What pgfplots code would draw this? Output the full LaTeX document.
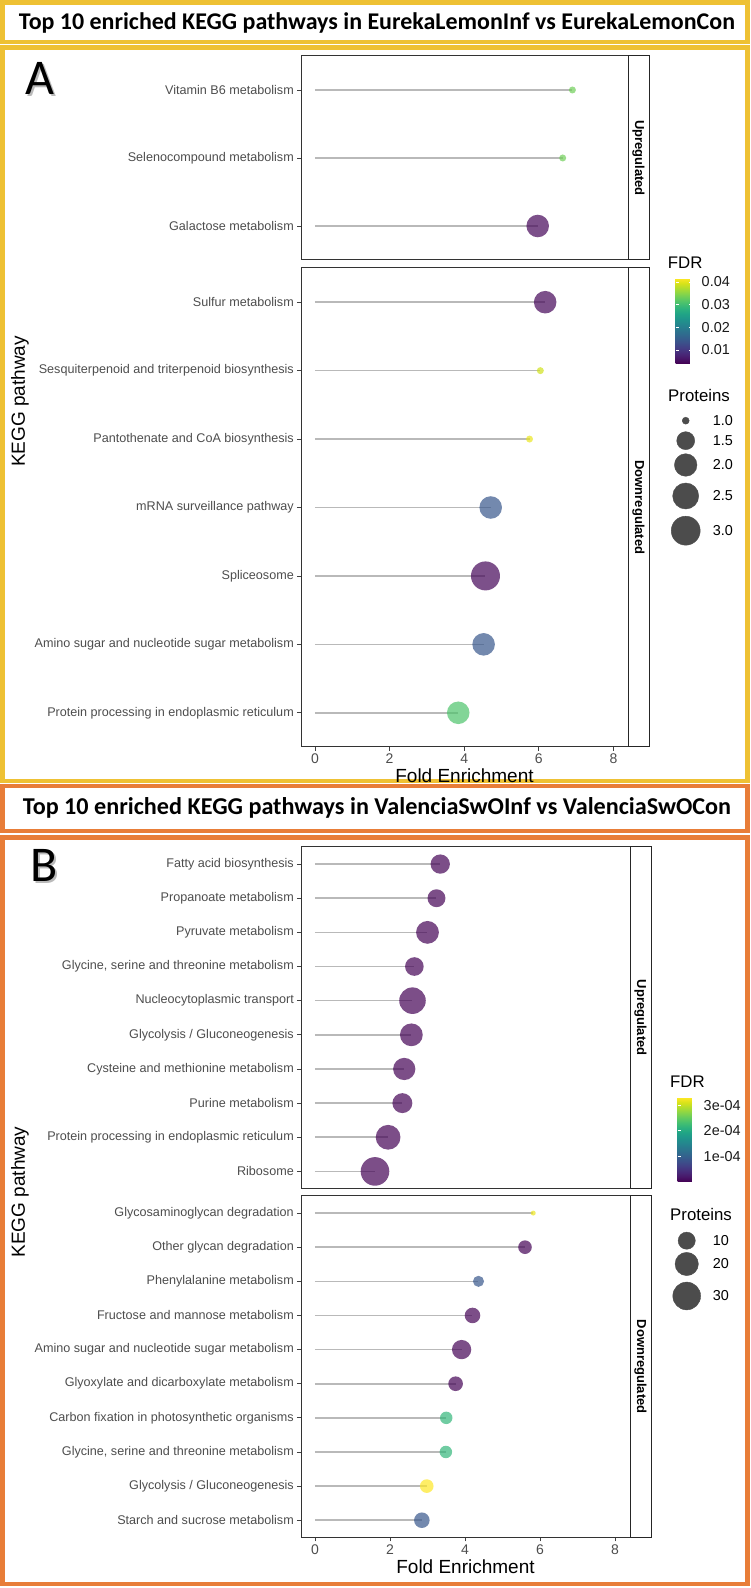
\documentclass[border=0pt]{standalone}
\usepackage{graphicx}
\usepackage{pgfplots}
\pgfplotsset{compat=1.18}
\usepackage{pgfplotstable}
\usepackage{fontspec}
\setmainfont{Liberation Sans}
\newfontfamily\calibri{Carlito}
\definecolor{panelY}{RGB}{238,193,52}
\definecolor{panelO}{RGB}{232,125,56}
\definecolor{axtext}{RGB}{77,77,77}
\definecolor{stemc}{RGB}{185,185,185}

\newcommand{\ylabfont}{\fontsize{12.6}{14}\selectfont}
\newcommand{\xtfont}{\fontsize{14}{16}\selectfont}
\newcommand{\legfont}{\fontsize{14.4}{16}\selectfont}
\newcommand{\legtfont}{\fontsize{16.8}{19}\selectfont}
\newcommand{\axtfont}{\fontsize{19}{22}\selectfont}
\newcommand{\stripfont}{\fontsize{13}{15}\selectfont\bfseries}

\pgfplotsset{
  facet/.style={
    scale only axis,
    axis line style={black!80, line width=1pt},
    tick style={black!75, line width=0.8pt},
    tick align=outside, major tick length=4pt,
    ytick pos=left, xtick pos=bottom,
    ymin=0.5,
    yticklabel style={font=\ylabfont, text=axtext, anchor=east, inner sep=0pt, xshift=-3pt},
    xticklabel style={font=\xtfont, text=axtext, inner sep=0pt, anchor=north, yshift=-3pt},
    /pgf/number format/assume math mode=true,
    colormap/viridis,
  },
  stem/.style={xcomb, draw=stemc, line width=1.6pt, forget plot},
  bubbleA/.style={scatter, only marks, mark=*, point meta=explicit,
     scatter/use mapped color={draw=mapped color, fill=mapped color},
     visualization depends on={\thisrow{n} \as \np},
     scatter/@pre marker code/.append style={/tikz/mark size={3.5+11*sqrt((\np-1)/2)}},
     mark options={draw opacity=0, fill opacity=0.7}},
  bubbleB/.style={scatter, only marks, mark=*, point meta=explicit,
     scatter/use mapped color={draw=mapped color, fill=mapped color},
     visualization depends on={\thisrow{n} \as \np},
     scatter/@pre marker code/.append style={/tikz/mark size={2.5+12*sqrt((\np-2)/31)}},
     mark options={draw opacity=0, fill opacity=0.7}},
  cbar/.style={scale only axis, scaled y ticks=false,
     ytick pos=both, yticklabel pos=right,
     axis line style={draw=none}, major tick length=3.5pt, tick align=inside,
     tick style={white, line width=0.6pt}},
}

% Panel A, upregulated (y=1 bottom)
\pgfplotstableread[col sep=semicolon]{
y;fe;fdr;n
1;5.97;0.0046;2
2;6.64;0.0334;1
3;6.90;0.0334;1
}\upA
% Panel A, downregulated
\pgfplotstableread[col sep=semicolon]{
y;fe;fdr;n
1;3.84;0.0311;2
2;4.52;0.0142;2
3;4.57;0.0046;3
4;4.71;0.0142;2
5;5.75;0.0405;1
6;6.04;0.0390;1
7;6.17;0.0046;2
}\downA
% Panel B, upregulated
\pgfplotstableread[col sep=semicolon]{
y;fe;fdr;n
1;1.60;0.000002;32
2;1.95;0.000002;23
3;2.33;0.000002;14
4;2.38;0.000002;18
5;2.57;0.000002;19
6;2.60;0.000002;27
7;2.65;0.000002;12
8;3.00;0.000002;19
9;3.24;0.000002;11
10;3.34;0.000002;13
}\upB
% Panel B, downregulated
\pgfplotstableread[col sep=semicolon]{
y;fe;fdr;n
1;2.85;0.000089;8
2;2.98;0.000329;6
3;3.49;0.000217;5
4;3.50;0.000217;5
5;3.75;0.000002;7
6;3.91;0.000002;13
7;4.20;0.000002;8
8;4.36;0.000089;4
9;5.60;0.000002;6
10;5.82;0.000320;2
}\downB
% legend keys (x, y in pt of the picture, protein count)
\pgfplotstableread[col sep=semicolon]{
x;y;n
685.7;1167.3;1.0
685.7;1147.3;1.5
685.7;1123.0;2.0
685.7;1092.0;2.5
685.7;1057.3;3.0
}\legA
\pgfplotstableread[col sep=semicolon]{
x;y;n
686.7;347.3;10
686.7;324.0;20
686.7;292.0;30
}\legB

\begin{document}
\begin{tikzpicture}[x=1pt,y=1pt]
\useasboundingbox (0,0) rectangle (750,1588);
% frames
\draw[panelY, line width=4.5pt] (2.5,1585.5) rectangle (747.5,1546);
\draw[panelY, line width=4.5pt] (2.5,1540.5) rectangle (747.5,807);
\draw[panelO, line width=4.5pt] (2.5,802) rectangle (747.5,757);
\draw[panelO, line width=4.5pt] (2.5,750.5) rectangle (747.5,4);
% titles
\node at (377,1565) {\resizebox{716pt}{!}{\calibri\bfseries Top 10 enriched KEGG pathways in EurekaLemonInf vs EurekaLemonCon}};
\node at (377,780) {\resizebox{708pt}{!}{\calibri\bfseries Top 10 enriched KEGG pathways in ValenciaSwOInf vs ValenciaSwOCon}};
% letters with shadow
\node[anchor=base west, inner sep=0pt, text=black!45, opacity=0.6] at (27,1491) {\calibri\fontsize{50}{50}\selectfont A};
\node[anchor=base west, inner sep=0pt] at (25,1493) {\calibri\fontsize{50}{50}\selectfont A};
\node[anchor=base west, inner sep=0pt, text=black!45, opacity=0.6] at (32,704) {\calibri\fontsize{50}{50}\selectfont B};
\node[anchor=base west, inner sep=0pt] at (30,706) {\calibri\fontsize{50}{50}\selectfont B};

\coordinate (cbA) at (667,1309.7);
\coordinate (cbB) at (669,490.3);
\coordinate (pAu) at (301,1328);
\coordinate (pAd) at (301,841);
\coordinate (pBu) at (301,399.5);
\coordinate (pBd) at (301,50.7);
\coordinate (pO) at (0,0);

% ---------- Panel A up
\begin{axis}[facet, at={(pAu)}, anchor=south west, width=327pt, height=204pt,
  xmin=-0.375, xmax=8.39, ymax=3.5, xtick=\empty,
  ytick={1,2,3},
  yticklabels={Galactose metabolism, Selenocompound metabolism, Vitamin B6 metabolism},
  point meta min=0.0041, point meta max=0.0416,
  colorbar,
  colorbar style={cbar, at={(cbA)}, anchor=north west,
    width=17.3pt, height=85pt,
    ytick={0.01,0.02,0.03,0.04}, yticklabels={0.01,0.02,0.03,0.04},
    yticklabel style={font=\legfont, text=black!90, anchor=west, inner sep=0pt, xshift=8.7pt}}]
\addplot[stem] table[x=fe,y=y]{\upA};
\addplot[bubbleA] table[x=fe,y=y,meta=fdr]{\upA};
\end{axis}

% ---------- Panel A down
\begin{axis}[facet, at={(pAd)}, anchor=south west, width=327pt, height=479pt,
  xmin=-0.375, xmax=8.39, ymax=7.5, xtick={0,2,4,6,8},
  ytick={1,...,7},
  yticklabels={Protein processing in endoplasmic reticulum, Amino sugar and nucleotide sugar metabolism, Spliceosome, mRNA surveillance pathway, Pantothenate and CoA biosynthesis, Sesquiterpenoid and triterpenoid biosynthesis, Sulfur metabolism},
  point meta min=0.0041, point meta max=0.0416]
\addplot[stem] table[x=fe,y=y]{\downA};
\addplot[bubbleA] table[x=fe,y=y,meta=fdr]{\downA};
\end{axis}

% ---------- Panel B up
\begin{axis}[facet, at={(pBu)}, anchor=south west, width=329pt, height=341.5pt,
  xmin=-0.373, xmax=8.4, ymax=10.5, xtick=\empty,
  ytick={1,...,10},
  yticklabels={Ribosome, Protein processing in endoplasmic reticulum, Purine metabolism, Cysteine and methionine metabolism, Glycolysis / Gluconeogenesis, Nucleocytoplasmic transport, {Glycine, serine and threonine metabolism}, Pyruvate metabolism, Propanoate metabolism, Fatty acid biosynthesis},
  point meta min=0, point meta max=0.000329,
  colorbar,
  colorbar style={cbar, at={(cbB)}, anchor=north west,
    width=17.7pt, height=84pt,
    ytick={0.0001,0.0002,0.0003}, yticklabels={1e-04,2e-04,3e-04},
    yticklabel style={font=\legfont, text=black!90, anchor=west, inner sep=0pt, xshift=8.3pt}}]
\addplot[stem] table[x=fe,y=y]{\upB};
\addplot[bubbleB] table[x=fe,y=y,meta=fdr]{\upB};
\end{axis}

% ---------- Panel B down
\begin{axis}[facet, at={(pBd)}, anchor=south west, width=329pt, height=341.3pt,
  xmin=-0.373, xmax=8.4, ymax=10.5, xtick={0,2,4,6,8},
  ytick={1,...,10},
  yticklabels={Starch and sucrose metabolism, Glycolysis / Gluconeogenesis, {Glycine, serine and threonine metabolism}, Carbon fixation in photosynthetic organisms, Glyoxylate and dicarboxylate metabolism, Amino sugar and nucleotide sugar metabolism, Fructose and mannose metabolism, Phenylalanine metabolism, Other glycan degradation, Glycosaminoglycan degradation},
  point meta min=0, point meta max=0.000329]
\addplot[stem] table[x=fe,y=y]{\downB};
\addplot[bubbleB] table[x=fe,y=y,meta=fdr]{\downB};
\end{axis}

% ---------- legend keys for Proteins
\begin{axis}[hide axis, scale only axis, at={(pO)}, anchor=south west,
  width=750pt, height=1588pt, xmin=0, xmax=750, ymin=0, ymax=1588, clip=false]
\addplot[scatter, only marks, mark=*, point meta=y,
   scatter/use mapped color={draw=black!70, fill=black!70},
   visualization depends on={\thisrow{n} \as \np},
   scatter/@pre marker code/.append style={/tikz/mark size={3.5+11*sqrt((\np-1)/2)}}] table[x=x,y=y]{\legA};
\addplot[scatter, only marks, mark=*, point meta=y,
   scatter/use mapped color={draw=black!70, fill=black!70},
   visualization depends on={\thisrow{n} \as \np},
   scatter/@pre marker code/.append style={/tikz/mark size={2.5+12*sqrt((\np-2)/31)}}] table[x=x,y=y]{\legB};
\end{axis}

% strips
\draw[black!85, line width=1pt, fill=white] (628,1532) rectangle (649,1328);
\node[rotate=-90, font=\stripfont] at (638.5,1430) {Upregulated};
\draw[black!85, line width=1pt, fill=white] (628,1320) rectangle (649,841);
\node[rotate=-90, font=\stripfont] at (638.5,1080.5) {Downregulated};
\draw[black!85, line width=1pt, fill=white] (630,741) rectangle (651,399.5);
\node[rotate=-90, font=\stripfont] at (640.5,570.25) {Upregulated};
\draw[black!85, line width=1pt, fill=white] (630,392) rectangle (651,50.7);
\node[rotate=-90, font=\stripfont] at (640.5,221.35) {Downregulated};

% axis titles
\node[rotate=90, font=\axtfont] at (20,1186.5) {KEGG pathway};
\node[rotate=90, font=\axtfont] at (20,396) {KEGG pathway};
\node[font=\axtfont] at (464.5,812) {Fold Enrichment};
\node[font=\axtfont] at (465.5,21) {Fold Enrichment};

% legend texts A
\node[anchor=west, inner sep=0pt, font=\legtfont] at (667.7,1325.3) {FDR};
\node[anchor=west, inner sep=0pt, font=\legtfont] at (668,1192.3) {Proteins};
\node[anchor=west, inner sep=0pt, font=\legfont] at (712.7,1167.3) {1.0};
\node[anchor=west, inner sep=0pt, font=\legfont] at (712.7,1147.3) {1.5};
\node[anchor=west, inner sep=0pt, font=\legfont] at (712.7,1123) {2.0};
\node[anchor=west, inner sep=0pt, font=\legfont] at (712.7,1092) {2.5};
\node[anchor=west, inner sep=0pt, font=\legfont] at (712.7,1057.3) {3.0};
% legend texts B
\node[anchor=west, inner sep=0pt, font=\legtfont] at (670,506) {FDR};
\node[anchor=west, inner sep=0pt, font=\legtfont] at (670,374) {Proteins};
\node[anchor=west, inner sep=0pt, font=\legfont] at (712.7,347.3) {10};
\node[anchor=west, inner sep=0pt, font=\legfont] at (712.7,324) {20};
\node[anchor=west, inner sep=0pt, font=\legfont] at (712.7,292) {30};
\end{tikzpicture}
\end{document}
